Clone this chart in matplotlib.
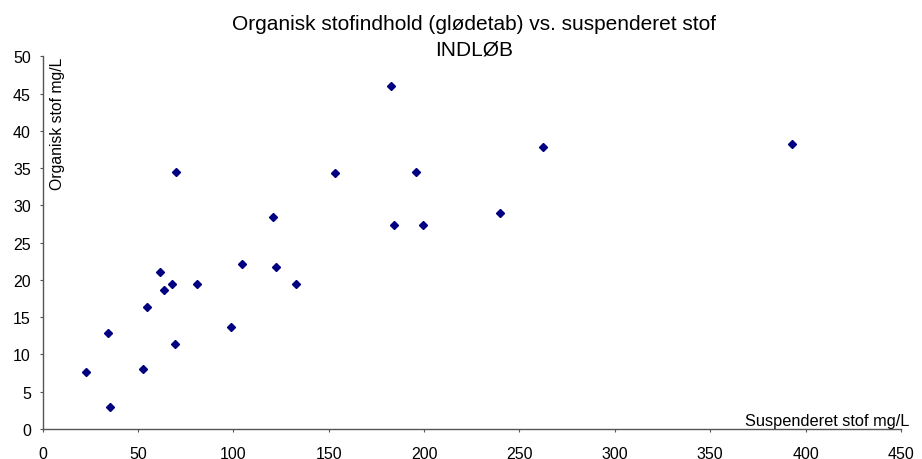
import matplotlib
matplotlib.use("Agg")
import matplotlib.pyplot as plt

plt.rcParams['font.family'] = ['Liberation Sans', 'DejaVu Sans']

suspenderet = [22.6, 34.1, 35.5, 52.8, 54.6, 61.4, 63.8, 67.7, 69.4, 70.1, 81.1,
               98.9, 104.5, 120.9, 122.3, 132.8, 153.3, 182.8, 184.2, 195.7,
               199.6, 239.6, 262.4, 392.9]
organisk = [7.7, 12.9, 3.0, 8.05, 16.4, 21.1, 18.6, 19.4, 11.4, 34.5, 19.4,
            13.7, 22.2, 28.5, 21.8, 19.4, 34.4, 46.0, 27.4, 34.5,
            27.4, 29.0, 37.8, 38.3]
x_ticks = [0, 50, 100, 150, 200, 250, 300, 350, 400, 450]
y_ticks = [0, 5, 10, 15, 20, 25, 30, 35, 40, 45, 50]
title_lines = ['Organisk stofindhold (glødetab) vs. suspenderet stof', 'INDLØB']

fig = plt.figure(figsize=(9.22, 4.60), dpi=100)
ax = fig.add_axes([42.6/922, 30/460, (901-42.6)/922, (430-57.3)/460])

ax.plot(suspenderet, organisk, linestyle='none', marker='D', ms=4.2,
        color='#000080', mec='#000080')

ax.set_xlim(0, 450)
ax.set_ylim(0, 50)
ax.set_xticks(x_ticks)
ax.set_yticks(y_ticks)
for s in ['top', 'right']:
    ax.spines[s].set_visible(False)
for s in ['left', 'bottom']:
    ax.spines[s].set_color('#555555')
    ax.spines[s].set_linewidth(1.0)
ax.tick_params(direction='out', length=2.5, color='#555555', labelsize=11.5,
               labelcolor='black')
ax.tick_params(axis='x', pad=9.5)
ax.tick_params(axis='y', pad=6)

fig.text(474.5/922, 1 - 30/460, title_lines[0],
         ha='center', va='baseline', fontsize=15)
fig.text(474.5/922, 1 - 56/460, title_lines[1],
         ha='center', va='baseline', fontsize=15)

ax.text(0.0168, 1.0, 'Organisk stof mg/L', transform=ax.transAxes, rotation=90,
        ha='center', va='top', fontsize=11.3)
ax.text(909.5/922, 1 - 426/460, 'Suspenderet stof mg/L', transform=fig.transFigure,
        ha='right', va='baseline', fontsize=11.8)

fig.savefig('out.png', dpi=100)
